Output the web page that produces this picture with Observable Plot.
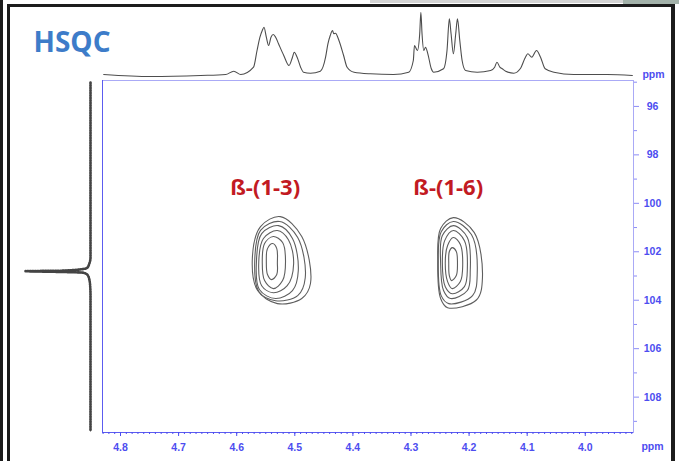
<!DOCTYPE html>
<html><head><meta charset="utf-8">
<script src="https://cdn.jsdelivr.net/npm/d3@7"></script>
<script src="https://cdn.jsdelivr.net/npm/@observablehq/plot@0.6"></script>
<style>
body{margin:0;background:#fff}
#wrap{position:relative;width:679px;height:461px;overflow:hidden;background:#fff}
#wrap svg{position:absolute;left:0;top:0}
.b{position:absolute;background:#1c1c1c}
</style></head><body>
<div id="wrap">
<div style="position:absolute;left:370px;top:0;width:253px;height:3px;background:#d4d4d4"></div>
<div style="position:absolute;left:623px;top:0;width:56px;height:4px;background:#a3b2aa"></div>
<div class="b" style="left:0;top:0;width:3px;height:461px"></div>
<div class="b" style="left:7px;top:4px;width:3px;height:457px"></div>
<div class="b" style="left:7px;top:4px;width:668px;height:3px"></div>
<div class="b" style="left:671px;top:4px;width:4px;height:457px"></div>
</div>
<script>
// 1H projection (top trace): chemical shift (ppm) and height
const topPpm = [4.829,4.748,4.662,4.619,4.605,4.593,4.571,4.565,4.560,4.556,4.553,4.549,4.545,4.541,4.537,4.533,4.528,4.519,4.510,4.504,4.501,4.496,4.490,4.485,4.473,4.456,4.447,4.443,4.439,4.435,4.433,4.430,4.424,4.416,4.410,4.398,4.370,4.330,4.304,4.296,4.294,4.289,4.285,4.283,4.281,4.278,4.275,4.271,4.265,4.261,4.244,4.238,4.234,4.231,4.227,4.223,4.220,4.216,4.212,4.206,4.186,4.163,4.156,4.152,4.147,4.143,4.137,4.123,4.112,4.103,4.099,4.092,4.084,4.077,4.069,4.054,4.020,3.962,3.919];
const topH = [2,0,1,2,5.3,2,9.3,26,39.3,46,49.3,39.3,31,39.3,42,39.3,32.7,21,11,19.3,24.3,19.3,9.3,4.3,3.3,5.3,19.3,32.7,41,46,42.7,43.3,36,21,9.3,4.3,2.7,2,4.3,16,31,26,42.7,64.3,42.7,26,29.3,22.7,7.7,4.3,7.7,26,57.7,42.7,22.7,42.7,57.7,36,16,6,4.3,6,9.3,14.3,9.3,7.7,5.3,3.3,7.7,19.3,22.7,19.3,26,19.3,7.7,4.3,2,2,1];

// 13C projection (left trace): chemical shift (ppm) and relative intensity
const leftC = [95.01,98,101,102.25,102.50,102.66,102.74,102.78,102.80,102.83,102.86,102.94,103.12,103.45,103.80,107,109.39];
const leftI = [0,0,0,0,0.02,0.05,0.2,0.45,1.0,0.5,0.12,0.05,0.02,0.004,0,0,0];

// HSQC contour rings, [1H, 13C] going round each level (top, upper right, right, lower right, bottom, lower left, left, upper left)
const ringsB13 = [
  [[4.538,101.66],[4.531,101.87],[4.530,102.45],[4.531,102.94],[4.540,103.15],[4.547,102.94],[4.549,102.40],[4.547,101.87]],
  [[4.537,101.37],[4.521,101.62],[4.516,102.36],[4.521,103.19],[4.537,103.52],[4.552,103.19],[4.556,102.40],[4.552,101.66]],
  [[4.530,101.12],[4.511,101.50],[4.502,102.49],[4.513,103.40],[4.537,103.69],[4.557,103.40],[4.562,102.40],[4.554,101.45]],
  [[4.528,100.92],[4.504,101.45],[4.494,102.78],[4.504,103.60],[4.533,103.93],[4.561,103.56],[4.566,102.40],[4.557,101.25]],
  [[4.526,100.75],[4.495,101.41],[4.482,103.07],[4.495,103.81],[4.533,104.02],[4.562,103.64],[4.569,102.40],[4.559,101.12]],
  [[4.525,100.55],[4.488,101.37],[4.473,103.31],[4.488,103.93],[4.530,104.14],[4.564,103.60],[4.573,102.24],[4.559,100.96]]
];
const ringsB16 = [
  [[4.229,101.83],[4.222,101.99],[4.220,102.49],[4.222,102.98],[4.230,103.19],[4.234,102.98],[4.235,102.49],[4.234,101.99]],
  [[4.227,101.41],[4.215,101.70],[4.211,102.57],[4.215,103.23],[4.229,103.52],[4.237,103.23],[4.241,102.45],[4.237,101.74]],
  [[4.227,101.12],[4.208,101.54],[4.203,102.69],[4.208,103.44],[4.229,103.73],[4.241,103.44],[4.246,102.45],[4.242,101.54]],
  [[4.227,100.92],[4.203,101.41],[4.198,102.78],[4.203,103.60],[4.232,103.93],[4.244,103.60],[4.249,102.45],[4.246,101.33]],
  [[4.227,100.75],[4.196,101.29],[4.186,102.90],[4.194,103.81],[4.235,104.14],[4.248,103.81],[4.253,102.40],[4.248,101.17]],
  [[4.227,100.59],[4.191,101.21],[4.177,103.07],[4.187,103.98],[4.237,104.31],[4.249,103.93],[4.254,102.36],[4.249,101.04]]
];

// Peak labels
const labelText = ["ß-(1-3)", "ß-(1-6)"];
const labelH = [4.551, 4.236];
const labelC = [99.35, 99.35];

// Tick labels
const xTicks = [4.8,4.7,4.6,4.5,4.4,4.3,4.2,4.1,4.0];
const xMinor = d3.range(392, 484).map(d => d / 100);
const yTicks = [96,98,100,102,104,106,108];
const yMinor = [95,97,99,101,103,105,107,109];

const blue = "#4d4df0";
const X = [4.831, 3.917], XR = [102, 633];
const Y = [94.93, 109.46], YR = [80, 432];

const topRows = topPpm.map((p, i) => ({p, h: topH[i]}));
const leftRows = leftC.map((c, i) => ({c, i: leftI[i]}));
const ringRows = [];
[ringsB13, ringsB16].forEach((rings, k) => rings.forEach((ring, r) =>
  ring.forEach(([h, c]) => ringRows.push({id: k * 10 + r, h, c}))));
const labels = labelText.map((t, i) => ({t, h: labelH[i], c: labelC[i]}));

const wrap = document.getElementById("wrap");
const tickText = {fill: blue, fontSize: 10.5, fontWeight: "bold", textAnchor: "middle", lineAnchor: "middle"};

const main = Plot.plot({
  width: 679, height: 461,
  marginLeft: 102, marginRight: 46, marginTop: 80, marginBottom: 29,
  x: {domain: X, range: XR, label: null},
  y: {domain: Y, range: YR, label: null},
  style: {background: "transparent", fontFamily: "'Liberation Sans', Arial, sans-serif"},
  marks: [
    Plot.frame({stroke: "#aaaaf6"}),
    Plot.ruleX([X[0]], {stroke: "#5c5cf0"}),
    Plot.ruleY([Y[1]], {stroke: "#5c5cf0"}),
    Plot.axisX(xMinor, {anchor: "bottom", tickSize: 2, tickFormat: () => "", color: blue, label: null}),
    Plot.axisX(xTicks, {anchor: "bottom", tickSize: 4, tickPadding: 7, tickFormat: d => d.toFixed(1),
      color: blue, fontSize: 10.5, fontWeight: "bold", label: null}),
    Plot.axisY(yMinor, {anchor: "right", tickSize: 3, tickFormat: () => "", color: "#8c8cf5", label: null}),
    Plot.axisY(yTicks, {anchor: "right", tickSize: 5, tickPadding: 14, textAnchor: "middle",
      color: blue, stroke: "#8c8cf5", fontSize: 10.5, fontWeight: "bold", label: null}),
    Plot.line(ringRows, {x: "h", y: "c", z: "id", curve: "catmull-rom-closed", stroke: "#5e5e5e", strokeWidth: 1.1}),
    Plot.text(labels, {x: "h", y: "c", text: "t", fill: "#c21a22", fontSize: 22, fontWeight: "bold",
      fontFamily: "'Open Sans', sans-serif"}),
    Plot.text(["ppm"], {frameAnchor: "bottom-right", dx: 19, dy: 14, ...tickText}),
    Plot.text(["ppm"], {frameAnchor: "top-right", dx: 20, dy: -6, ...tickText}),
    Plot.text(["HSQC"], {frameAnchor: "top-left", dx: -69, dy: -37, textAnchor: "start", lineAnchor: "middle",
      fill: "#3d7cc9", fontSize: 28, fontWeight: "bold", fontFamily: "'Open Sans', sans-serif"})
  ]
});

const topPlot = Plot.plot({
  width: 679, height: 461, margin: 0,
  x: {domain: X, range: XR, axis: null},
  y: {domain: [0, 70], range: [76, 6], axis: null},
  style: {background: "transparent"},
  marks: [Plot.line(topRows, {x: "p", y: "h", curve: "monotone-x", stroke: "#4d4d4d", strokeWidth: 1.1})]
});

const leftPlot = Plot.plot({
  width: 679, height: 461, margin: 0,
  x: {domain: [0, 1], range: [90, 25], axis: null},
  y: {domain: Y, range: YR, axis: null},
  style: {background: "transparent"},
  marks: [
    Plot.line(leftRows, {x: "i", y: "c", curve: "monotone-y", stroke: "#2e2e2e", strokeWidth: 1.4}),
    Plot.line(leftRows, {x: "i", y: "c", curve: "monotone-y", stroke: "#444", strokeWidth: 2.6, strokeDasharray: "1,1.5"})
  ]
});

wrap.append(main, topPlot, leftPlot);
</script>
</body></html>
